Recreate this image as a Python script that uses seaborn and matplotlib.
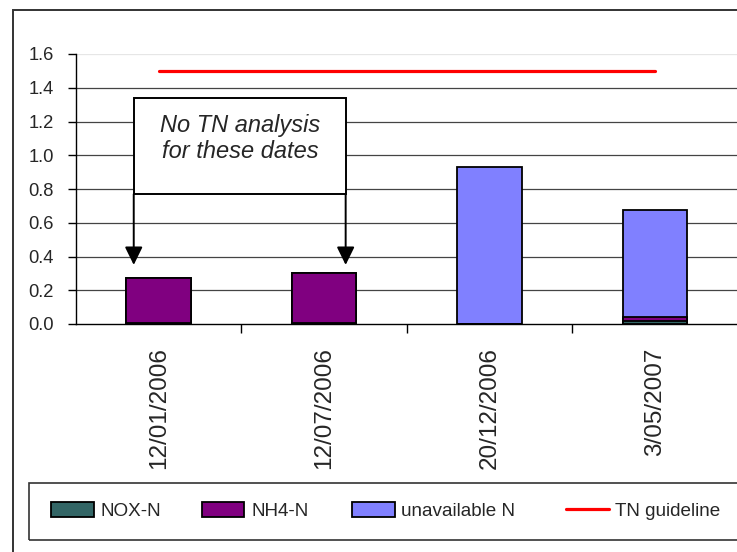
import matplotlib
matplotlib.use("Agg")
import matplotlib.pyplot as plt
from matplotlib.patches import Rectangle, Patch
from matplotlib.lines import Line2D
from matplotlib.ticker import FixedLocator, FormatStrFormatter
import seaborn as sns

# Sample dates and nitrogen fractions (mg/L)
dates = ["12/01/2006", "12/07/2006", "20/12/2006", "3/05/2007"]
nox_n = [0.005, 0.005, 0.0, 0.015]
nh4_n = [0.27, 0.30, 0.0, 0.025]
unavailable_n = [0.0, 0.0, 0.93, 0.635]
tn_guideline = [1.5, 1.5, 1.5, 1.5]
y_ticks = [0.0, 0.2, 0.4, 0.6, 0.8, 1.0, 1.2, 1.4, 1.6]

series_names = ["NOX-N", "NH4-N", "unavailable N", "TN guideline"]
colors = {"NOX-N": "#336666", "NH4-N": "#800080",
          "unavailable N": "#8080FF", "TN guideline": "#FF0000"}

sns.set_theme(style="white")
plt.rcParams["font.family"] = ["Liberation Sans", "DejaVu Sans"]

W, H = 737, 552
fig = plt.figure(figsize=(W / 100, H / 100), dpi=100)
ax = fig.add_axes([76 / W, 1 - 324 / H, 1 - 76 / W + 0.001, (324 - 54) / H])

# Stacked bars: draw cumulative totals, largest first, then overlay
cum_nox = nox_n
cum_nh4 = [a + b for a, b in zip(nox_n, nh4_n)]
cum_all = [a + b for a, b in zip(cum_nh4, unavailable_n)]
bar_kw = dict(width=0.39, edgecolor="black", linewidth=1.3,
              saturation=1, errorbar=None, ax=ax, zorder=3)
sns.barplot(x=dates, y=cum_all, color=colors["unavailable N"], **bar_kw)
sns.barplot(x=dates, y=cum_nh4, color=colors["NH4-N"], **bar_kw)
sns.barplot(x=dates, y=cum_nox, color=colors["NOX-N"], **bar_kw)

# Guideline across the sampling dates
sns.lineplot(x=dates, y=tn_guideline, color=colors["TN guideline"],
             linewidth=2.3, sort=False, ax=ax, zorder=4)

ax.set_xlim(-0.5, 3.5)
ax.set_ylim(0, 1.6)
ax.set_xlabel("")
ax.set_ylabel("")

# Horizontal gridlines
for v in y_ticks[1:]:
    ax.axhline(v, color="#e6e6e6" if v == y_ticks[-1] else "#444444",
               linewidth=0.9, zorder=1)

for s in ["top", "right"]:
    ax.spines[s].set_visible(False)
for s in ["left", "bottom"]:
    ax.spines[s].set_color("black")
    ax.spines[s].set_linewidth(1.0)
    ax.spines[s].set_zorder(5)

ax.set_yticks(y_ticks)
ax.yaxis.set_major_formatter(FormatStrFormatter("%.1f"))
ax.tick_params(axis="y", direction="out", length=5.8, width=1.0,
               color="black", pad=10, labelsize=13.2, left=True)
ax.tick_params(axis="x", which="major", length=0, pad=17, bottom=True)
ax.xaxis.set_minor_locator(FixedLocator([0.5, 1.5, 2.5]))
ax.tick_params(axis="x", which="minor", direction="out", length=6.5,
               width=1.0, color="black", bottom=True)
for lab in ax.get_xticklabels():
    lab.set_rotation(90)
    lab.set_fontsize(17.5)
    lab.set_va("top")
    lab.set_ha("center")

# Note box with arrows pointing at the first two dates
ax.add_patch(Rectangle((-0.151, 0.77), 1.281, 0.569, facecolor="white",
                       edgecolor="black", linewidth=1.4, zorder=6))
ax.text(0.495, 1.138, "No TN analysis", ha="center", va="baseline",
        fontsize=17, style="italic", zorder=7)
ax.text(0.495, 0.984, "for these dates", ha="center", va="baseline",
        fontsize=17, style="italic", zorder=7)
for xa in (-0.151, 1.130):
    ax.annotate("", xy=(xa, 0.35), xytext=(xa, 0.77),
                arrowprops=dict(arrowstyle="-|>,head_length=0.55,head_width=0.27",
                                mutation_scale=20, color="black", lw=1.4,
                                shrinkA=0, shrinkB=0), zorder=7)

# Outer chart frame and legend frame
fig.add_artist(Rectangle((13 / W, -0.1), 1.2, 1 - 10 / H + 0.1, fill=False,
                         edgecolor="#333333", linewidth=1.4,
                         transform=fig.transFigure))
fig.add_artist(Rectangle((29 / W, 1 - 540 / H), 1.2, 57 / H, fill=False,
                         edgecolor="#333333", linewidth=1.2,
                         transform=fig.transFigure))

handles = [Patch(facecolor=colors[n], edgecolor="black", linewidth=1.3)
           for n in series_names[:3]]
handles.append(Line2D([], [], color=colors["TN guideline"], linewidth=2.3))
starts = [51, 202, 352, 566]
for h, name, x0 in zip(handles, series_names, starts):
    fig.legend([h], [name], loc="center left",
               bbox_to_anchor=(x0 / W, 1 - 511 / H), frameon=False,
               borderpad=0, borderaxespad=0, handlelength=2.25,
               handleheight=0.85, handletextpad=0.35,
               prop={"size": 13.6})

fig.savefig("out.png", dpi=100)
